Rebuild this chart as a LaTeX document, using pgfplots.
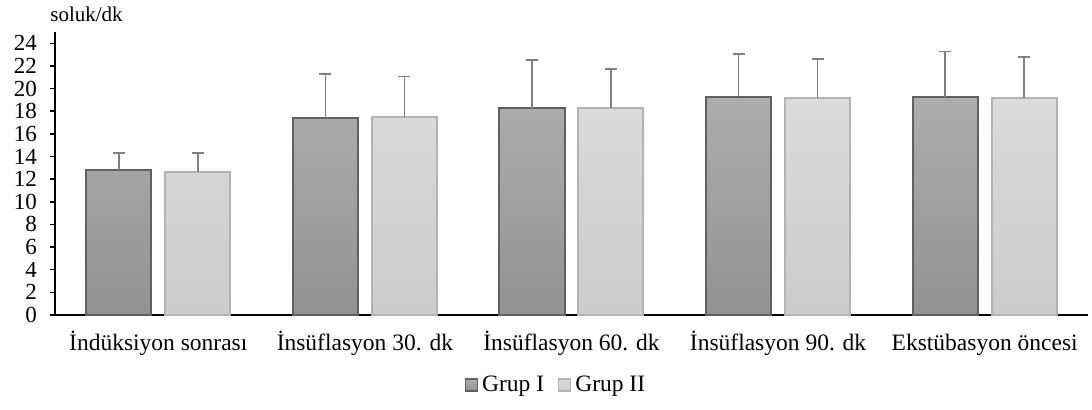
\documentclass[border=0pt]{standalone}
\usepackage{fontspec}
\setmainfont{Liberation Serif}
\usepackage{pgfplots}
\pgfplotsset{compat=1.18}
\definecolor{gAtop}{HTML}{ADADAD}
\definecolor{gAbot}{HTML}{929292}
\definecolor{gAline}{HTML}{606060}
\definecolor{gBtop}{HTML}{DBDBDB}
\definecolor{gBbot}{HTML}{CBCBCB}
\definecolor{gBline}{HTML}{B3B3B3}
\definecolor{errc}{HTML}{808080}
\begin{document}
\begin{tikzpicture}
\useasboundingbox (-27.5pt,-47pt) rectangle (518.5pt,157.5pt);
\begin{axis}[
  scale only axis, width=516.5pt, height=141.5pt,
  xmin=-0.5, xmax=4.5, ymin=0, ymax=25,
  axis x line*=bottom, axis y line*=left,
  axis line style={black, line width=1pt},
  ytick={0,2,...,24},
  xtick={0,1,2,3,4},
  xticklabels={İndüksiyon sonrası, İnsüflasyon 30. dk, İnsüflasyon 60. dk, İnsüflasyon 90. dk, Ekstübasyon öncesi},
  xtick style={draw=none},
  ytick style={black, line width=0.75pt},
  tick align=outside, major tick length=2.5pt,
  /pgf/number format/assume math mode=true,
  yticklabel style={font=\fontsize{11.5}{13}\selectfont, anchor=east, xshift=-3pt},
  xticklabel style={font=\fontsize{11.75}{13}\selectfont, anchor=base, yshift=-15pt},
  legend columns=2,
  legend style={at={(0.486,-0.247)}, anchor=center, draw=none, fill=none,
    font=\fontsize{11.75}{13}\selectfont,
    /tikz/every even column/.append style={column sep=5pt}},
  legend image code/.code={\draw[#1, line width=0.6pt] (0pt,-3pt) rectangle (6pt,3pt);},
]
\addplot[ybar, bar width=0.315, bar shift=0pt, draw=gAline, line width=1pt,
  top color=gAtop, bottom color=gAbot,
  error bars/.cd, y dir=plus, y explicit,
  error bar style={errc, line width=0.8pt},
  error mark options={errc, line width=0.8pt, mark size=3pt, rotate=90}]
  coordinates {(-0.191,12.84) +- (0,1.46) (0.809,17.41) +- (0,3.89) (1.809,18.31) +- (0,4.20) (2.809,19.22) +- (0,3.84) (3.809,19.22) +- (0,4.07)};
\addlegendentry{Grup I}
\addplot[ybar, bar width=0.315, bar shift=0pt, draw=gBline, line width=1pt,
  top color=gBtop, bottom color=gBbot,
  error bars/.cd, y dir=plus, y explicit,
  error bar style={errc, line width=0.8pt},
  error mark options={errc, line width=0.8pt, mark size=3pt, rotate=90}]
  coordinates {(0.191,12.66) +- (0,1.64) (1.191,17.52) +- (0,3.55) (2.191,18.31) +- (0,3.40) (3.191,19.16) +- (0,3.43) (4.191,19.14) +- (0,3.66)};
\addlegendentry{Grup II}
\end{axis}
\node[anchor=base west, inner sep=0pt, font=\fontsize{10.5}{12}\selectfont] at (-2.5pt,147pt) {soluk/dk};
\end{tikzpicture}
\end{document}
